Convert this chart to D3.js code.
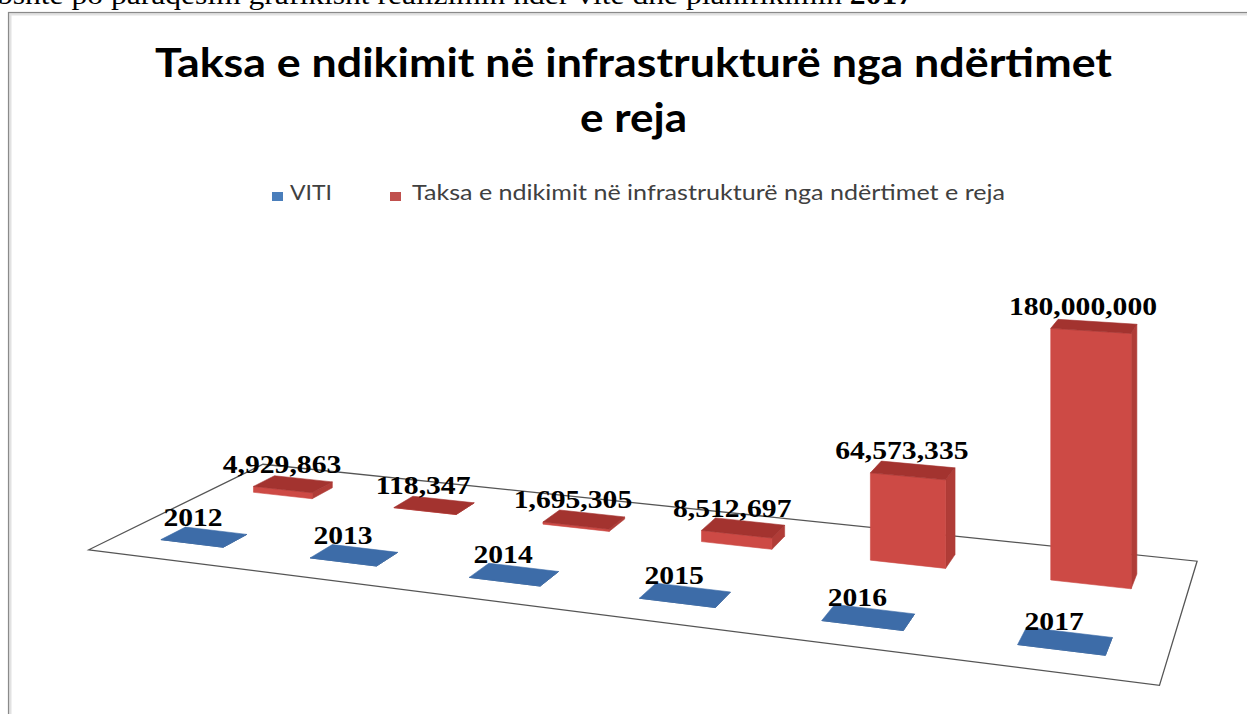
<!DOCTYPE html>
<html>
<head>
<meta charset="utf-8">
<script src="https://cdn.jsdelivr.net/npm/d3@7/dist/d3.min.js"></script>
<style>
  html, body { margin: 0; padding: 0; background: #fff; }
  svg { display: block; }
</style>
</head>
<body>
<svg id="chart" width="1247" height="714"></svg>
<script>
// ---------------- data ----------------
const categories = ["2012", "2013", "2014", "2015", "2016", "2017"];
const vitiValues = [2012, 2013, 2014, 2015, 2016, 2017];
const taksaValues = [4929863, 118347, 1695305, 8512697, 64573335, 180000000];
const seriesNames = ["VITI", "Taksa e ndikimit në infrastrukturë nga ndërtimet e reja"];
const titleLines = ["Taksa e ndikimit në infrastrukturë nga ndërtimet", "e reja"];
const pageText = "bshte po paraqesim grafikisht realizimin ndër vite dhe planifikimin ";
const pageTextBold = "2017";

// ---------------- setup ----------------
const W = 1247, H = 714;
const svg = d3.select("#chart");

// perspective floor projection (homography from floor coords s,t to screen)
const cam = {a: 695, b: 112.7, c: 204, d: 4.0, e: -7.4, f: 537, g: -0.156, h: 0.0808};
function proj(s, t, hpx) {
  const w = cam.g * s + cam.h * t + 1;
  return [(cam.a * s + cam.b * t + cam.c) / w,
          (cam.d * s + cam.e * t + cam.f) / w - (hpx || 0) / w];
}

const sScale = d3.scaleBand().domain(categories).range([-0.1, 1.1])
  .paddingInner(0.575).paddingOuter(0.2875);
const tScale = d3.scalePoint().domain(seriesNames).range([0, 1]);
const hScale = d3.scaleLinear().domain([0, 200000000]).range([0, 257.6]);
const depth = 0.25;
const floorT = [-0.42, 1.45];

// ---------------- page text & frame ----------------
const pageLine = svg.append("text")
  .attr("x", -3).attr("y", 4)
  .attr("font-family", "'Liberation Serif', 'Times New Roman', serif")
  .attr("font-size", 27).attr("fill", "#000")
  .attr("textLength", 916).attr("lengthAdjust", "spacingAndGlyphs");
pageLine.append("tspan").text(pageText);
pageLine.append("tspan").attr("font-weight", "bold").text(pageTextBold);

// frame with soft shadow
svg.append("rect").attr("x", 10).attr("y", 14).attr("width", W).attr("height", H)
  .attr("fill", "none").attr("stroke", "#e2e2e2").attr("stroke-width", 3);
svg.append("rect").attr("x", 8.5).attr("y", 12.5).attr("width", W).attr("height", H)
  .attr("fill", "none").attr("stroke", "#8a8a8a").attr("stroke-width", 1.2);

// ---------------- title ----------------
const titleG = svg.append("g")
  .attr("font-family", "Lato, 'Open Sans', sans-serif")
  .attr("font-weight", "bold").attr("font-size", 40).attr("fill", "#000")
  .attr("text-anchor", "middle");
titleG.append("text").attr("x", 633.5).attr("y", 77).text(titleLines[0])
  .attr("textLength", 957).attr("lengthAdjust", "spacingAndGlyphs");
titleG.append("text").attr("x", 633.5).attr("y", 132).text(titleLines[1])
  .attr("textLength", 107).attr("lengthAdjust", "spacingAndGlyphs");

// ---------------- legend ----------------
const legendColors = ["#4a7ebb", "#c0504d"];
const legendItems = [
  {name: seriesNames[0], sq: 272, tx: 290, len: 42},
  {name: seriesNames[1], sq: 390, tx: 412, len: 593}
];
const lg = svg.append("g")
  .attr("font-family", "Lato, 'Open Sans', sans-serif")
  .attr("font-size", 21).attr("fill", "#404040");
legendItems.forEach((it, i) => {
  lg.append("rect").attr("x", it.sq).attr("y", 192).attr("width", 11).attr("height", 9)
    .attr("fill", legendColors[i]);
  lg.append("text").attr("x", it.tx).attr("y", 200).text(it.name)
    .attr("textLength", it.len).attr("lengthAdjust", "spacingAndGlyphs");
});

// ---------------- floor ----------------
const s0 = sScale.range()[0], s1 = sScale.range()[1];
const floorPts = [proj(s0, floorT[0]), proj(s1, floorT[0]), proj(s1, floorT[1]), proj(s0, floorT[1])];
svg.append("polygon")
  .attr("points", floorPts.map(p => p.join(",")).join(" "))
  .attr("fill", "#fff").attr("stroke", "#555").attr("stroke-width", 1.3);

// ---------------- bars ----------------
const palettes = [
  {front: "#2f5b91", side: "#2a5284", top: "#3d6ca8"},
  {front: "#cd4a45", side: "#b03c37", top: "#a3332f"}
];
function drawBox(g, cat, series, value, pal) {
  const sc = sScale(cat) + sScale.bandwidth() / 2;
  const tc = tScale(series);
  const sa = sc - sScale.bandwidth() / 2, sb = sc + sScale.bandwidth() / 2;
  const ta = tc - depth / 2, tb = tc + depth / 2;
  const hp = hScale(value);
  const b00 = proj(sa, ta), b10 = proj(sb, ta), b11 = proj(sb, tb), b01 = proj(sa, tb);
  const T00 = proj(sa, ta, hp), T10 = proj(sb, ta, hp), T11 = proj(sb, tb, hp), T01 = proj(sa, tb, hp);
  const poly = (pts, fill) => g.append("polygon")
    .attr("points", pts.map(p => p.join(",")).join(" "))
    .attr("fill", fill).attr("stroke", fill).attr("stroke-width", 0.6).attr("stroke-linejoin", "round");
  poly([b10, b11, T11, T10], pal.side);
  poly([b00, b10, T10, T00], pal.front);
  poly([T00, T10, T11, T01], pal.top);
  const lab = proj(sc, tc, hp);
  return {x: lab[0] - 11, y: lab[1] - 11};
}

const barsG = svg.append("g");
const labelPos = [[], []];
// back row (red) then front row (blue)
categories.forEach((c, i) => { labelPos[1][i] = drawBox(barsG, c, seriesNames[1], taksaValues[i], palettes[1]); });
categories.forEach((c, i) => { labelPos[0][i] = drawBox(barsG, c, seriesNames[0], vitiValues[i], palettes[0]); });

// ---------------- data labels ----------------
const fmtT = d3.format(",");
const labelsG = svg.append("g")
  .attr("font-family", "'Liberation Serif', 'Times New Roman', serif")
  .attr("font-weight", "bold").attr("font-size", 26).attr("fill", "#000")
  .attr("text-anchor", "middle");
const allLabels = [
  ...categories.map((c, i) => ({p: labelPos[1][i], t: fmtT(taksaValues[i])})),
  ...categories.map((c, i) => ({p: labelPos[0][i], t: String(vitiValues[i])}))
];
allLabels.forEach(L => {
  labelsG.append("text")
    .attr("transform", `translate(${L.p.x},${L.p.y}) scale(1.14,1)`)
    .text(L.t);
});
</script>
</body>
</html>
